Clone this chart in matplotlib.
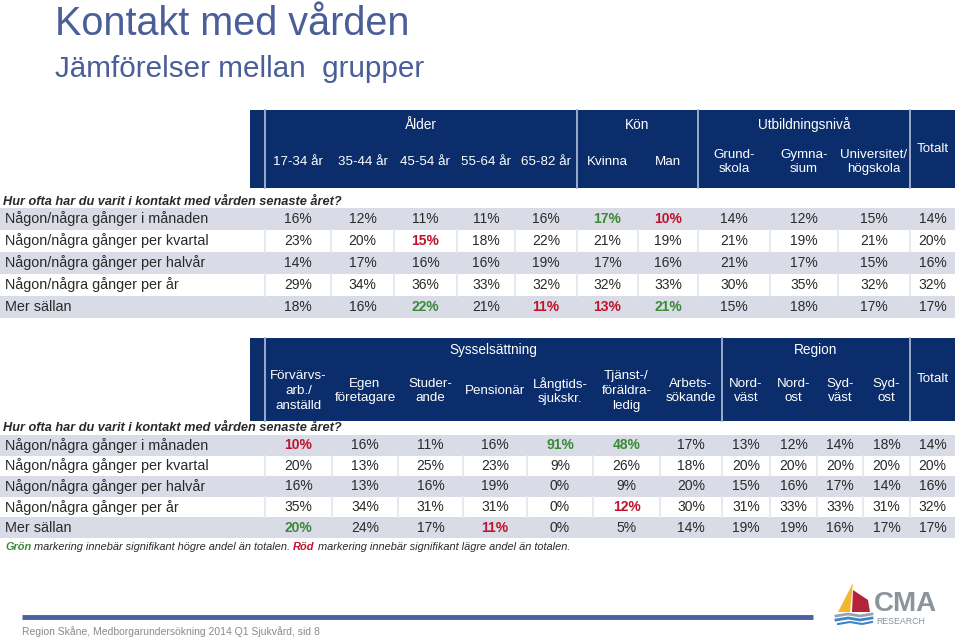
import matplotlib.pyplot as plt
from matplotlib.patches import Rectangle, Polygon

plt.rcParams['font.family'] = ['Liberation Sans', 'DejaVu Sans']

# --- data ---
row_labels = ['Någon/några gånger i månaden', 'Någon/några gånger per kvartal',
              'Någon/några gånger per halvår', 'Någon/några gånger per år', 'Mer sällan']
question = 'Hur ofta har du varit i kontakt med vården senaste året?'

t1_groups = [('Ålder', 0, 5), ('Kön', 5, 7), ('Utbildningsnivå', 7, 10)]
t1_cols = ['17-34 år', '35-44 år', '45-54 år', '55-64 år', '65-82 år', 'Kvinna', 'Man',
           'Grund-\nskola', 'Gymna-\nsium', 'Universitet/\nhögskola', 'Totalt']
t1_vals = [[16, 12, 11, 11, 16, 17, 10, 14, 12, 15, 14],
           [23, 20, 15, 18, 22, 21, 19, 21, 19, 21, 20],
           [14, 17, 16, 16, 19, 17, 16, 21, 17, 15, 16],
           [29, 34, 36, 33, 32, 32, 33, 30, 35, 32, 32],
           [18, 16, 22, 21, 11, 13, 21, 15, 18, 17, 17]]
t1_sig = [['', '', '', '', '', 'g', 'r', '', '', '', ''],
          ['', '', 'r', '', '', '', '', '', '', '', ''],
          ['', '', '', '', '', '', '', '', '', '', ''],
          ['', '', '', '', '', '', '', '', '', '', ''],
          ['', '', 'g', '', 'r', 'r', 'g', '', '', '', '']]

t2_groups = [('Sysselsättning', 0, 7), ('Region', 7, 11)]
t2_cols = ['Förvärvs-\narb./\nanställd', 'Egen\nföretagare', 'Studer-\nande', 'Pensionär',
           'Långtids-\nsjukskr.', 'Tjänst-/\nföräldra-\nledig', 'Arbets-\nsökande',
           'Nord-\nväst', 'Nord-\nost', 'Syd-\nväst', 'Syd-\nost', 'Totalt']
t2_vals = [[10, 16, 11, 16, 91, 48, 17, 13, 12, 14, 18, 14],
           [20, 13, 25, 23, 9, 26, 18, 20, 20, 20, 20, 20],
           [16, 13, 16, 19, 0, 9, 20, 15, 16, 17, 14, 16],
           [35, 34, 31, 31, 0, 12, 30, 31, 33, 33, 31, 32],
           [20, 24, 17, 11, 0, 5, 14, 19, 19, 16, 17, 17]]
t2_sig = [['r', '', '', '', 'g', 'g', '', '', '', '', '', ''],
          ['', '', '', '', '', '', '', '', '', '', '', ''],
          ['', '', '', '', '', '', '', '', '', '', '', ''],
          ['', '', '', '', '', 'r', '', '', '', '', '', ''],
          ['g', '', '', 'r', '', '', '', '', '', '', '', '']]

# --- layout / style ---
NAVY = '#0b2d6b'
HLINE = '#a8b5d2'
BAND = '#d9dce7'
SEP = '#e6e8ee'
TXT = '#2a2a2a'
GREEN = '#3a8a36'
RED = '#c0132b'
TITLE = '#4a5e98'

t1_edges = [265, 331, 394, 457, 515, 577, 638, 698, 770, 838, 910, 955]
t2_edges = [265, 332, 398, 463, 527, 593, 660, 722, 770, 817, 863, 910, 955]

fig = plt.figure(figsize=(9.6, 6.4), dpi=100)
ax = fig.add_axes([0, 0, 1, 1])
ax.set_xlim(0, 960)
ax.set_ylim(640, 0)
ax.axis('off')

ax.text(55, 35, 'Kontakt med vården', fontsize=28.5, color=TITLE, va='baseline')
ax.text(55, 77, 'Jämförelser mellan  grupper', fontsize=21.3, color=TITLE, va='baseline')


def draw_table(edges, groups, cols, vals, sig, top, head_h, group_y, sub_y, q_y, row_top, row_h):
    left, right = 250, edges[-1]
    ax.add_patch(Rectangle((left, top), right - left, head_h, color=NAVY, lw=0))
    # header separators
    seps = [edges[0]] + [edges[g[2]] for g in groups]
    for x in seps:
        ax.plot([x, x], [top, top + head_h], color=HLINE, lw=1.3)
    for name, a, b in groups:
        ax.text((edges[a] + edges[b]) / 2, group_y, name, color='white', fontsize=9.8,
                ha='center', va='center')
    for i, c in enumerate(cols):
        xc = (edges[i] + edges[i + 1]) / 2
        y = sub_y if i < len(cols) - 1 else top + head_h * 0.5
        ax.text(xc, y, c, color='white', fontsize=9.6, ha='center', va='center', linespacing=1.3)
    ax.text(3, q_y, question, fontsize=9.2, fontweight='bold', fontstyle='italic',
            color=TXT, va='center')
    for r, lab in enumerate(row_labels):
        y0 = row_top + r * row_h
        if r % 2 == 0:
            ax.add_patch(Rectangle((0, y0), right, row_h, color=BAND, lw=0))
        else:
            for x in edges[:-1]:
                ax.plot([x, x], [y0, y0 + row_h], color=SEP, lw=1.5)
        ax.text(5, y0 + row_h / 2, lab, fontsize=10.4, color=TXT, va='center')
        for i, v in enumerate(vals[r]):
            xc = (edges[i] + edges[i + 1]) / 2
            s = sig[r][i]
            col = GREEN if s == 'g' else RED if s == 'r' else TXT
            ax.text(xc, y0 + row_h / 2, f'{v}%', fontsize=10, color=col, ha='center',
                    va='center', fontweight='bold' if s else 'normal')


draw_table(t1_edges, t1_groups, t1_cols, t1_vals, t1_sig,
           top=110, head_h=78, group_y=125, sub_y=162, q_y=202, row_top=208, row_h=22)
draw_table(t2_edges, t2_groups, t2_cols, t2_vals, t2_sig,
           top=338, head_h=83, group_y=350, sub_y=391, q_y=428, row_top=435, row_h=20.6)

# legend line
parts = [('Grön', GREEN, 'bold'), (' markering innebär signifikant högre andel än totalen. ', TXT, 'normal'),
         ('Röd', RED, 'bold'), (' markering innebär signifikant lägre andel än totalen.', TXT, 'normal')]
x = 5
fig.canvas.draw()
rend = fig.canvas.get_renderer()
for s, c, w in parts:
    t = ax.text(x, 547, s, fontsize=7.9, color=c, fontweight=w, fontstyle='italic', va='center')
    bb = t.get_window_extent(renderer=rend)
    x += bb.width

# footer
ax.plot([22, 813], [617, 617], color='#4a62a0', lw=3.5, solid_capstyle='butt')
ax.text(22, 632, 'Region Skåne, Medborgarundersökning 2014 Q1 Sjukvård, sid 8',
        fontsize=7.5, color='#8a8a8a', va='center')

# logo
ax.add_patch(Polygon([[853, 583], [838, 612], [850, 612]], closed=True, color='#f2b630', lw=0))
ax.add_patch(Polygon([[853, 590], [852, 612], [870, 612], [868, 600]], closed=True, color='#b5223a', lw=0))
ax.plot([836, 848, 860, 872], [616, 614, 616, 614], color='#9aa3ad', lw=2)
ax.plot([836, 848, 860, 872], [620, 618, 620, 618], color='#3a86c8', lw=2)
ax.plot([838, 850, 862, 872], [624, 622, 624, 622], color='#3a86c8', lw=1.5)
ax.text(874, 604, 'CMA', fontsize=20, fontweight='bold', color='#8b939c', va='center')
ax.text(876, 621, 'RESEARCH', fontsize=6.3, color='#8b939c', va='center')

fig.savefig('out.png', dpi=100)
